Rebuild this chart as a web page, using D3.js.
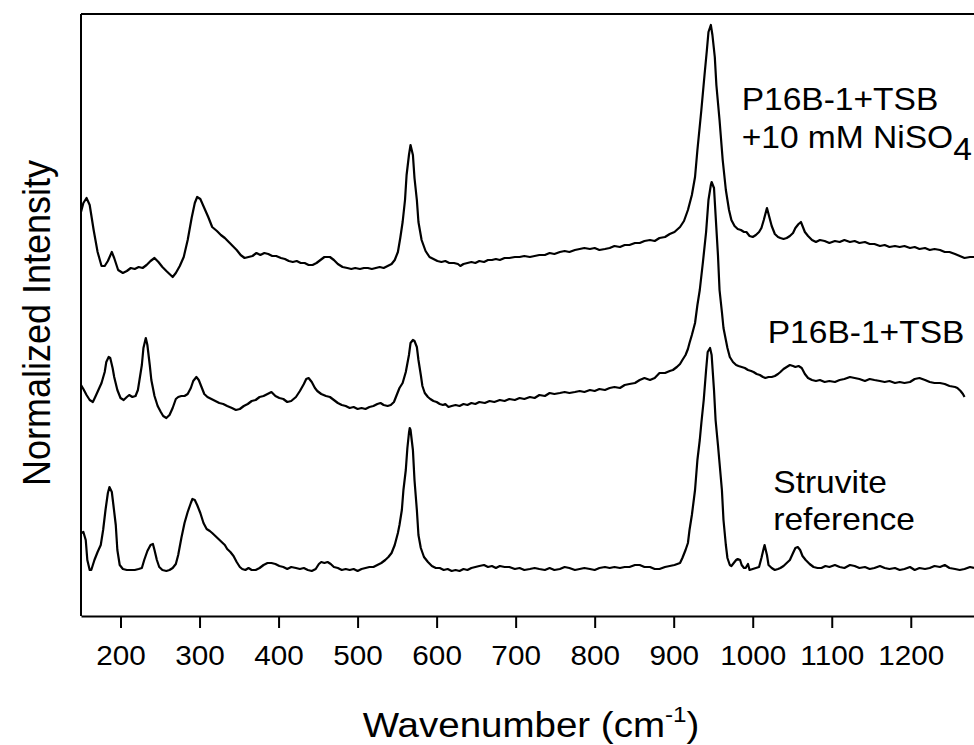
<!DOCTYPE html>
<html>
<head>
<meta charset="utf-8">
<script src="https://cdn.jsdelivr.net/npm/d3@7"></script>
<style>
  body { margin: 0; background: #fff; }
  text { font-family: "Liberation Sans", Arial, sans-serif; fill: #000; }
</style>
</head>
<body>
<div id="chart"></div>
<script>
const width = 974;
const height = 745;

// wavenumber (cm-1), intensity (a.u., stacked as plotted)
const nisoSpectrum = [
  [150,4040],[153,4130],[157,4180],[161,4110],[166,3860],[171,3640],[176,3500],[180,3500],[184,3550],[189,3640],
  [192,3580],[197,3460],[203,3430],[208,3450],[213,3480],[218,3470],[223,3490],[228,3480],[233,3510],[238,3550],
  [243,3580],[248,3540],[253,3490],[258,3450],[262,3420],[266,3390],[270,3430],[275,3500],[280,3590],[285,3760],
  [290,3980],[294,4130],[297,4190],[301,4170],[306,4080],[311,3990],[316,3890],[322,3850],[327,3810],[332,3780],
  [337,3740],[342,3700],[347,3660],[352,3610],[357,3580],[362,3590],[367,3600],[372,3630],[377,3610],[382,3630],
  [387,3620],[392,3600],[397,3600],[403,3580],[408,3570],[413,3550],[418,3540],[423,3550],[428,3530],[433,3530],
  [438,3510],[443,3510],[448,3530],[453,3560],[458,3590],[465,3590],[470,3560],[475,3520],[481,3490],[487,3480],
  [492,3470],[497,3480],[503,3470],[508,3480],[513,3480],[518,3470],[523,3480],[528,3490],[533,3480],[538,3500],
  [543,3520],[547,3560],[551,3640],[554,3780],[557,3940],[560,4160],[562,4410],[565,4610],[567,4710],[570,4610],
  [572,4380],[575,4160],[577,3940],[581,3760],[586,3650],[591,3590],[596,3570],[601,3550],[606,3540],[611,3550],
  [616,3530],[622,3530],[627,3520],[630,3500],[634,3520],[639,3530],[644,3540],[649,3530],[654,3550],[660,3540],
  [665,3560],[670,3560],[675,3570],[680,3560],[686,3580],[692,3580],[699,3590],[705,3590],[711,3600],[718,3590],
  [724,3600],[730,3610],[737,3610],[743,3630],[749,3620],[756,3640],[762,3650],[768,3640],[775,3660],[781,3670],
  [787,3680],[794,3670],[800,3680],[806,3660],[813,3670],[819,3680],[825,3700],[832,3690],[838,3710],[844,3710],
  [851,3730],[857,3730],[863,3750],[870,3760],[876,3750],[882,3780],[889,3790],[895,3820],[901,3840],[908,3890],
  [913,3950],[918,4060],[923,4210],[927,4390],[930,4660],[935,5060],[939,5410],[942,5660],[944,5840],[947,5910],
  [949,5810],[952,5590],[954,5310],[958,4960],[962,4560],[966,4260],[970,4060],[973,3960],[977,3900],[981,3870],
  [985,3860],[989,3840],[992,3840],[996,3800],[1000,3790],[1004,3810],[1008,3840],[1011,3880],[1014,3960],[1018,4080],
  [1020,4020],[1024,3900],[1028,3820],[1032,3790],[1035,3780],[1039,3770],[1043,3780],[1047,3800],[1051,3830],[1054,3880],
  [1058,3920],[1061,3940],[1063,3900],[1066,3840],[1070,3800],[1075,3760],[1080,3740],[1085,3760],[1091,3750],[1097,3730],
  [1104,3750],[1110,3740],[1116,3760],[1123,3740],[1129,3750],[1135,3730],[1142,3740],[1148,3720],[1154,3720],[1161,3700],
  [1167,3710],[1173,3690],[1180,3700],[1186,3690],[1192,3700],[1199,3680],[1205,3690],[1211,3670],[1218,3680],[1224,3660],
  [1230,3670],[1237,3660],[1243,3640],[1249,3640],[1256,3620],[1262,3600],[1268,3580],[1275,3590],[1280,3590]
];

const tsbSpectrum = [
  [150,2310],[153,2270],[157,2210],[161,2160],[165,2140],[168,2190],[172,2260],[176,2330],[180,2440],[182,2540],
  [185,2590],[187,2580],[190,2480],[192,2390],[196,2260],[200,2180],[204,2160],[208,2190],[211,2210],[215,2190],
  [219,2200],[222,2260],[224,2360],[227,2510],[229,2680],[232,2780],[234,2710],[237,2510],[239,2360],[243,2200],
  [247,2100],[251,2040],[254,2000],[258,1980],[262,2010],[266,2080],[270,2170],[273,2190],[277,2200],[281,2200],
  [285,2220],[289,2280],[292,2350],[296,2390],[299,2360],[303,2280],[306,2220],[310,2190],[315,2170],[320,2150],
  [325,2130],[330,2120],[335,2100],[341,2080],[346,2060],[351,2070],[356,2100],[361,2120],[366,2150],[371,2160],
  [376,2190],[381,2200],[386,2220],[391,2240],[396,2200],[401,2180],[406,2170],[411,2140],[416,2150],[422,2190],
  [427,2250],[432,2320],[435,2370],[438,2380],[442,2340],[446,2280],[449,2250],[454,2220],[460,2200],[465,2190],
  [470,2160],[475,2130],[480,2110],[485,2100],[490,2080],[495,2090],[500,2070],[505,2080],[510,2070],[515,2090],
  [520,2100],[525,2120],[529,2130],[533,2110],[538,2100],[542,2110],[546,2140],[549,2200],[553,2280],[557,2330],
  [561,2440],[565,2610],[567,2730],[570,2760],[572,2750],[575,2690],[577,2560],[580,2410],[582,2300],[585,2230],
  [589,2190],[592,2170],[596,2150],[600,2140],[604,2120],[608,2110],[611,2120],[615,2090],[619,2100],[624,2110],
  [629,2100],[634,2120],[639,2110],[644,2130],[649,2120],[654,2140],[661,2130],[667,2150],[673,2140],[680,2160],
  [686,2150],[692,2170],[699,2160],[705,2180],[711,2170],[718,2190],[724,2180],[730,2210],[737,2200],[743,2230],
  [749,2220],[756,2230],[762,2240],[768,2230],[775,2240],[781,2250],[787,2240],[794,2260],[800,2250],[806,2270],
  [813,2260],[819,2280],[825,2290],[832,2280],[838,2310],[844,2320],[851,2330],[857,2360],[863,2380],[870,2360],
  [876,2380],[882,2430],[889,2430],[895,2450],[899,2460],[904,2490],[908,2520],[911,2560],[915,2610],[918,2670],
  [920,2730],[923,2810],[927,2930],[930,3110],[933,3260],[937,3540],[941,3840],[944,4160],[947,4310],[948,4340],
  [951,4280],[953,4010],[956,3610],[958,3260],[961,3040],[963,2880],[966,2760],[968,2680],[971,2590],[975,2540],
  [979,2510],[982,2500],[986,2490],[990,2480],[994,2460],[998,2450],[1001,2440],[1005,2420],[1009,2410],[1013,2390],
  [1016,2380],[1020,2390],[1024,2390],[1028,2400],[1032,2420],[1035,2440],[1039,2470],[1043,2490],[1047,2510],[1051,2500],
  [1054,2490],[1058,2500],[1062,2480],[1066,2420],[1070,2380],[1075,2360],[1080,2350],[1085,2360],[1091,2340],[1097,2350],
  [1104,2340],[1110,2360],[1116,2370],[1123,2390],[1129,2380],[1135,2370],[1142,2350],[1148,2370],[1154,2360],[1161,2350],
  [1167,2340],[1173,2350],[1180,2330],[1186,2340],[1192,2330],[1199,2340],[1205,2370],[1211,2380],[1218,2360],[1224,2340],
  [1230,2330],[1237,2330],[1243,2320],[1249,2300],[1256,2290],[1259,2280],[1263,2250],[1266,2220],[1268,2190]
];

const struviteSpectrum = [
  [150,830],[153,840],[156,760],[158,560],[161,460],[163,460],[167,560],[171,640],[175,710],[178,860],
  [181,1060],[184,1230],[186,1290],[189,1240],[191,1110],[194,910],[196,660],[199,510],[203,470],[208,460],
  [213,460],[218,460],[223,470],[227,480],[230,560],[234,650],[238,710],[241,720],[243,660],[246,560],
  [249,490],[253,460],[258,450],[262,460],[266,480],[270,520],[273,610],[277,780],[281,930],[285,1040],
  [289,1130],[291,1170],[294,1160],[297,1110],[301,1030],[305,930],[309,870],[313,850],[316,830],[320,800],
  [324,770],[328,740],[332,710],[335,670],[339,640],[343,600],[347,540],[351,490],[354,470],[358,460],
  [362,480],[366,460],[371,460],[376,480],[381,510],[386,530],[391,530],[396,520],[401,500],[406,490],
  [411,470],[416,490],[422,480],[427,470],[432,480],[437,460],[442,450],[447,470],[451,520],[454,540],
  [458,530],[462,540],[466,520],[470,490],[475,480],[480,460],[485,470],[490,460],[495,470],[500,450],
  [505,470],[510,480],[515,490],[520,490],[525,510],[530,530],[535,560],[539,590],[543,630],[547,710],
  [551,830],[553,910],[556,1060],[558,1260],[561,1460],[563,1680],[565,1830],[566,1880],[567,1860],[570,1660],
  [572,1360],[575,1060],[577,810],[580,680],[584,590],[589,540],[594,500],[599,480],[604,480],[609,460],
  [614,470],[619,450],[624,460],[629,450],[634,470],[639,460],[644,480],[649,490],[654,500],[660,510],
  [665,490],[670,500],[675,480],[680,500],[686,490],[692,490],[699,470],[705,480],[711,460],[718,470],
  [724,480],[730,470],[737,460],[743,480],[749,460],[756,470],[762,490],[768,480],[775,460],[781,470],
  [787,480],[794,470],[800,460],[806,480],[813,490],[819,480],[825,490],[832,480],[838,490],[844,490],
  [851,510],[857,510],[863,490],[870,490],[876,470],[882,470],[889,490],[895,500],[901,510],[908,530],
  [911,580],[915,660],[918,730],[920,860],[923,1010],[927,1260],[930,1560],[933,1760],[935,1930],[938,2160],
  [941,2460],[943,2640],[946,2680],[948,2610],[951,2260],[953,1960],[956,1710],[958,1530],[961,1260],[963,960],
  [966,710],[968,580],[971,510],[973,500],[976,530],[979,560],[981,570],[984,560],[986,510],[989,480],
  [991,480],[994,520],[996,460],[1000,470],[1004,480],[1008,490],[1011,580],[1014,680],[1015,710],[1018,610],
  [1020,510],[1024,480],[1028,460],[1032,470],[1035,480],[1039,500],[1043,530],[1047,560],[1051,630],[1054,680],
  [1057,690],[1060,660],[1063,600],[1067,560],[1072,520],[1077,490],[1082,480],[1087,480],[1092,500],[1097,490],
  [1104,510],[1110,490],[1116,480],[1123,510],[1129,500],[1135,480],[1142,490],[1148,470],[1154,480],[1161,500],
  [1167,480],[1173,470],[1180,480],[1186,460],[1192,470],[1199,490],[1205,460],[1211,480],[1218,470],[1224,480],
  [1230,500],[1237,490],[1243,510],[1249,480],[1256,470],[1262,460],[1268,470],[1275,490],[1280,480]
];

const xTicks = [200, 300, 400, 500, 600, 700, 800, 900, 1000, 1100, 1200];
const xDomain = [150, 1280];
const yDomain = [0, 6020];

// spectrum labels, placed by wavenumber / intensity
const labelLines = [
  { wn: 986, y: 5060, text: "P16B-1+TSB" },
  { wn: 986, y: 4680, text: "+10 mM NiSO", sub: "4" },
  { wn: 1019, y: 2730, text: "P16B-1+TSB" },
  { wn: 1026, y: 1230, text: "Struvite" },
  { wn: 1026, y: 860, text: "reference" }
];

const margin = { left: 81, right: 0, top: 14, bottom: 129 };
const stretch = 1.1; // glyphs in the source are a bit wide

const svg = d3.select('#chart').append('svg')
  .attr('width', width)
  .attr('height', height);

const xScale = d3.scaleLinear()
  .domain(xDomain)
  .range([margin.left, width - margin.right]);

const yScale = d3.scaleLinear()
  .domain(yDomain)
  .range([height - margin.bottom, margin.top]);

svg.append('clipPath').attr('id', 'plotClip')
  .append('rect')
  .attr('x', margin.left).attr('y', margin.top)
  .attr('width', width - margin.left)
  .attr('height', height - margin.bottom - margin.top);

// spectra
const line = d3.line()
  .x(d => xScale(d[0]))
  .y(d => yScale(d[1]));

svg.append('g').attr('clip-path', 'url(#plotClip)')
  .selectAll('path')
  .data([nisoSpectrum, tsbSpectrum, struviteSpectrum])
  .enter().append('path')
  .attr('d', line)
  .attr('fill', 'none')
  .attr('stroke', '#000')
  .attr('stroke-width', 2.2)
  .attr('stroke-linejoin', 'round');

// frame: top and left (right side runs off the picture)
svg.append('line')
  .attr('x1', xScale(xDomain[0])).attr('x2', xScale(xDomain[1]))
  .attr('y1', yScale(yDomain[1])).attr('y2', yScale(yDomain[1]))
  .attr('stroke', '#000').attr('stroke-width', 2);
svg.append('line')
  .attr('x1', xScale(xDomain[0])).attr('x2', xScale(xDomain[0]))
  .attr('y1', yScale(yDomain[1])).attr('y2', yScale(yDomain[0]))
  .attr('stroke', '#000').attr('stroke-width', 2);

// x axis
const xAxis = svg.append('g')
  .attr('transform', `translate(0,${yScale(yDomain[0])})`)
  .call(d3.axisBottom(xScale)
    .tickValues(xTicks)
    .tickFormat(d3.format('d'))
    .tickSize(12).tickSizeOuter(0).tickPadding(18));

xAxis.select('.domain').attr('stroke-width', 2);
xAxis.selectAll('.tick line').attr('stroke-width', 2);
xAxis.selectAll('.tick text')
  .attr('font-size', 27)
  .attr('font-family', '"Liberation Sans", Arial, sans-serif')
  .attr('fill', '#000')
  .attr('transform', `scale(${stretch},1)`);

// axis titles
const xTitle = svg.append('text')
  .attr('transform', `translate(531,737) scale(${stretch},1)`)
  .attr('text-anchor', 'middle')
  .attr('font-size', 35);
xTitle.append('tspan').text('Wavenumber (cm');
xTitle.append('tspan').attr('font-size', 22).attr('dy', -15).text('-1');
xTitle.append('tspan').attr('dy', 15).text(')');

svg.append('text')
  .attr('transform', `translate(50,323) scale(${stretch},1) rotate(-90)`)
  .attr('text-anchor', 'middle')
  .attr('font-size', 36)
  .text('Normalized Intensity');

// spectrum labels
labelLines.forEach(l => {
  const t = svg.append('text')
    .attr('transform', `translate(${xScale(l.wn)},${yScale(l.y)}) scale(${stretch},1)`)
    .attr('font-size', 30.5);
  t.append('tspan').text(l.text);
  if (l.sub) t.append('tspan').attr('dy', 12).text(l.sub);
});
</script>
</body>
</html>
